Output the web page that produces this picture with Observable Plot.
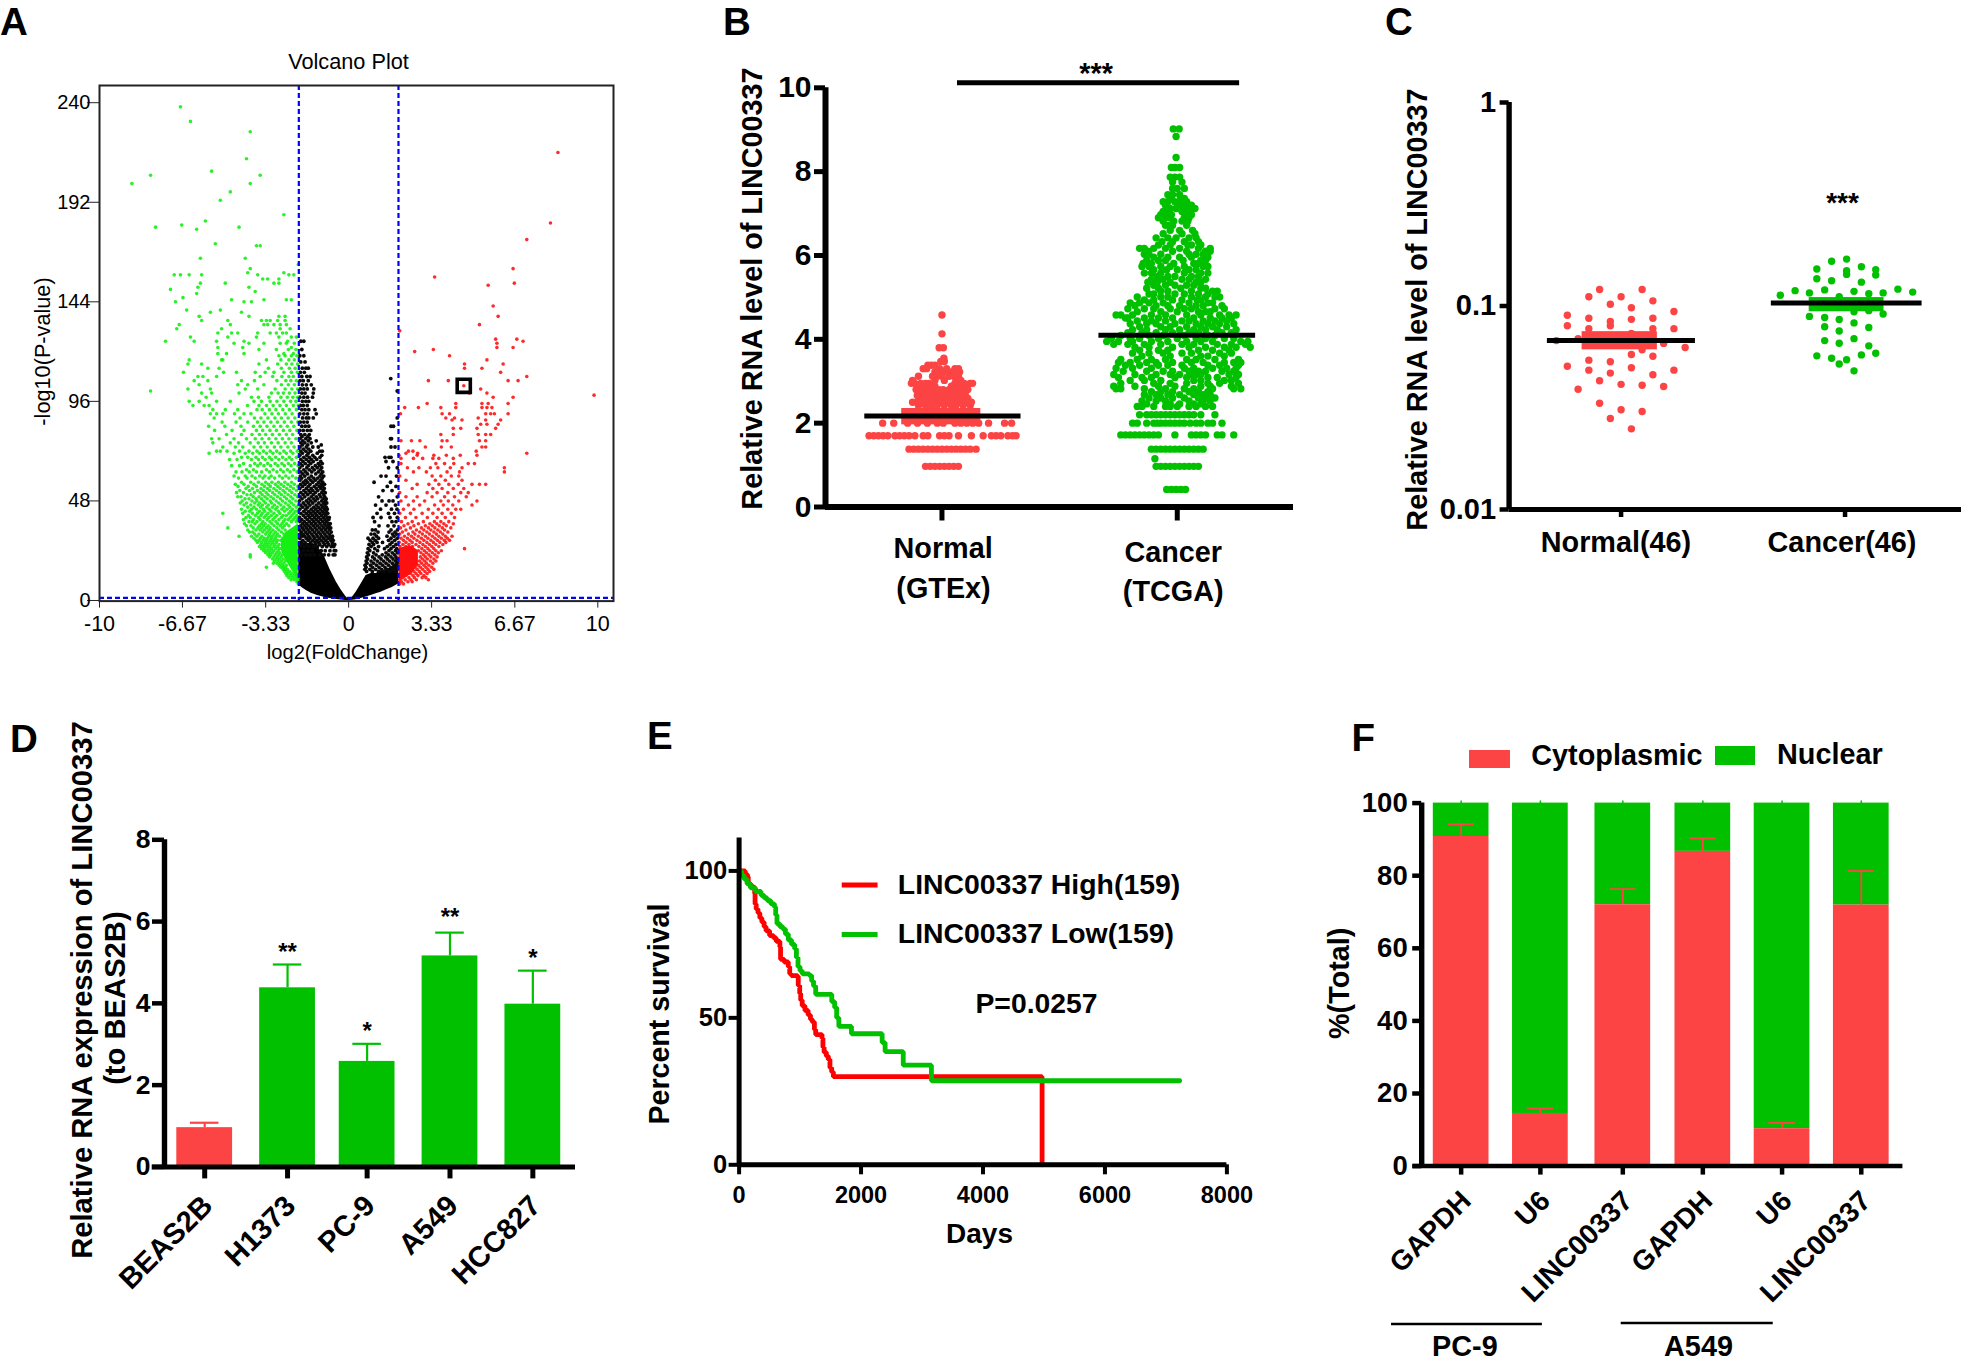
<!DOCTYPE html>
<html><head><meta charset="utf-8">
<script src="https://cdn.jsdelivr.net/npm/d3@7"></script>
<script src="https://cdn.jsdelivr.net/npm/@observablehq/plot@0.6"></script>
<style>
html,body{margin:0;background:#fff}
#page{position:relative;width:1961px;height:1362px;overflow:hidden;font-family:"Liberation Sans",Arial,sans-serif;color:#000}
#page svg{position:absolute;background:transparent}
.t{position:absolute;font-weight:bold;white-space:nowrap;line-height:1}
.s{position:absolute}
</style></head><body><div id="page"></div>
<script>
// ---------- A: volcano. Solid overlap cores as [log2FC, low, high]; points as rows of [-log10 P, [log2 FC ...]]
const volcanoTicksX=[-10,-6.67,-3.33,0,3.33,6.67,10];
const volcanoTicksY=[0,48,96,144,192,240];
const coreBlackLeft=[[-2,7.5,27],[-1.85,6,28],[-1.7,4.8,27],[-1.5,3.5,28],[-1.25,2.4,26],[-1,1.5,22],[-.75,.9,15],[-.5,.5,9],[-.3,.2,5],[-.12,0,2],[0,0,.5]];
const coreBlackRight=[[0,0,.5],[.15,.1,1.5],[.3,.4,4],[.5,1,8],[.7,1.7,12],[.9,2.4,13],[1.1,3.2,13],[1.3,4,14],[1.5,5,15],[1.75,6.3,16],[2,8,19]];
const coreGreen=[[-2.7,24,29],[-2.5,19,33],[-2.25,14,35],[-2.02,10,37]];
const coreRed=[[2.02,9,25],[2.3,11,26],[2.55,13,26],[2.8,17,24]];
const greenRows=[[8,[-2.02]],[9,[-2.08,-2.02]],[10,[-2.05,-2.18,-2.31]],[11,[-2.12,-2.26,-2.02,-2.4]],[12,[-2.07,-2.2,-2.34,-2.48]],[13,[-2.15,-2.29,-2.43,-2.52]],[14,[-2.37,-2.58,-2.47]],[15,[-2.46,-2.63,-2.55]],[16,[-2.55,-2.72,-2.61,-3.3]],[17,[-2.5,-2.66,-2.79]],[18,[-2.6,-2.75,-2.88,-3.02]],[19,[-2.53,-2.69,-2.83,-2.97]],[20,[-2.62,-2.78,-2.91,-3.05]],[21,[-2.71,-2.86,-3,-3.17,-3.95]],[22,[-2.66,-2.8,-2.95,-3.12,-3.24,-3.95]],[23,[-2.76,-2.9,-3.06,-3.19,-3.33]],[24,[-2.83,-3.01,-3.15,-3.28,-3.41]],[25,[-2.77,-2.92,-3.09,-3.23,-3.37,-3.5]],[26,[-2.85,-3,-3.17,-3.31,-3.44,-3.58]],[27,[-2.79,-2.96,-3.11,-3.26,-3.39,-3.52]],[28,[-2.9,-3.05,-3.2,-3.34,-3.5,-3.66]],[29,[-2.72,-2.86,-3,-3.14,-3.29,-3.43,-3.6,-3.72]],[30,[-2.64,-2.95,-3.1,-3.25,-3.38,-3.54,-3.8]],[31,[-2.77,-2.91,-3.07,-3.21,-3.48,-3.68,-3.9,-4.4]],[32,[-2.6,-2.85,-3,-3.17,-3.33,-3.6,-3.77]],[33,[-2.7,-2.94,-3.12,-3.27,-3.45,-3.85,-3.98]],[34,[-2.55,-2.8,-3.04,-3.2,-3.38,-3.55,-3.72,-4.05]],[35,[-2.66,-2.88,-3.15,-3.3,-3.48,-3.64,-3.83,-4.85]],[36,[-2.4,-2.58,-2.75,-2.99,-3.23,-3.41,-3.58,-3.92,-4.1]],[37,[-2.49,-2.68,-2.85,-3.08,-3.35,-3.5,-3.76,-4.18]],[38,[-2.1,-2.3,-2.62,-2.92,-3.16,-3.44,-3.68,-3.87,-4]],[39,[-2.05,-2.22,-2.42,-2.55,-2.8,-3.04,-3.27,-3.56,-3.82,-4.22]],[40,[-2.15,-2.35,-2.7,-2.96,-3.2,-3.39,-3.62,-3.95,-4.12]],[41,[-2.08,-2.28,-2.5,-2.63,-2.88,-3.1,-3.32,-3.52,-3.74,-4.02]],[42,[-2.2,-2.4,-2.76,-3,-3.24,-3.47,-3.66,-3.86,-4.25,-5.05]],[43,[-2.03,-2.13,-2.33,-2.57,-2.82,-3.12,-3.37,-3.58,-3.97,-4.15]],[44,[-2.25,-2.47,-2.68,-2.93,-3.19,-3.42,-3.7,-3.9,-4.3]],[45,[-2.1,-2.36,-2.6,-2.87,-3.06,-3.29,-3.53,-3.8,-4.05]],[46,[-2.02,-2.2,-2.43,-2.72,-2.98,-3.22,-3.46,-3.63,-3.93,-4.2]],[47,[-2.3,-2.54,-2.81,-3.09,-3.34,-3.57,-3.77,-4.1,-4.35]],[48,[-2.12,-2.38,-2.65,-2.91,-3.15,-3.41,-3.68,-3.88,-4.27]],[49,[-2.24,-2.49,-2.74,-3.02,-3.27,-3.5,-3.72,-4,-4.16]],[50,[-2.05,-2.32,-2.58,-2.85,-3.12,-3.36,-3.6,-3.83,-4.32,-4.45]],[51,[-2.16,-2.43,-2.7,-2.96,-3.23,-3.47,-3.92,-4.08]],[52,[-2.28,-2.55,-2.79,-3.05,-3.31,-3.55,-3.78,-4.22,-4.5]],[53,[-2.09,-2.37,-2.63,-2.9,-3.17,-3.42,-3.66,-3.98,-4.37]],[54,[-2.22,-2.48,-2.75,-3,-3.26,-3.52,-3.86,-4.12]],[55,[-2.04,-2.33,-2.6,-2.84,-3.14,-3.38,-3.7,-4.03,-4.44]],[56,[-2.18,-2.44,-2.71,-2.94,-3.22,-3.48,-3.8,-4.2,-4.55]],[57,[-2.29,-2.56,-2.82,-3.08,-3.33,-3.62,-3.93,-4.3]],[59,[-2.12,-2.4,-2.66,-2.97,-3.2,-3.44,-3.75,-4.08,-4.42]],[60,[-2.26,-2.52,-2.78,-3.11,-3.36,-3.57,-3.88,-4.15,-4.6]],[62,[-2.07,-2.35,-2.62,-2.88,-3.18,-3.49,-3.7,-3.99,-4.28,-4.52]],[63,[-2.2,-2.46,-2.73,-3.03,-3.3,-3.82,-4.1]],[65,[-2.03,-2.31,-2.58,-2.84,-3.13,-3.4,-3.65,-3.95,-4.38,-4.7]],[66,[-2.17,-2.42,-2.68,-2.95,-3.25,-3.54,-3.77,-4.22]],[68,[-2.28,-2.52,-2.8,-3.09,-3.35,-3.62,-3.9,-4.48,-4.78]],[69,[-2.1,-2.38,-2.65,-2.93,-3.18,-3.46,-3.72,-4.05,-4.3]],[71,[-2.24,-2.5,-2.76,-3.04,-3.3,-3.58,-3.85,-4.15,-4.6,-5.6]],[72,[-2.06,-2.33,-2.6,-2.89,-3.15,-3.42,-3.68,-4,-4.38,-4.88,-5.3,-5.15]],[74,[-2.19,-2.44,-2.72,-2.98,-3.27,-3.53,-3.8,-4.25,-4.55,-5.05]],[76,[-2.3,-2.55,-2.83,-3.1,-3.38,-3.63,-3.95,-4.42,-4.75,-5.45]],[78,[-2.12,-2.4,-2.66,-2.92,-3.2,-3.48,-3.75,-4.1,-4.6,-5.2,-5.5]],[80,[-2.25,-2.5,-2.78,-3.06,-3.33,-3.58,-3.88,-4.3,-4.9]],[82,[-2.08,-2.36,-2.62,-2.9,-3.16,-3.45,-3.7,-4.2,-4.68,-5.38]],[84,[-2.2,-2.46,-2.73,-3,-3.28,-3.55,-3.82,-4.32,-4.97,-5.62]],[86,[-2.04,-2.3,-2.58,-2.86,-3.12,-3.4,-3.66,-4.05,-4.52,-5.08]],[88,[-2.16,-2.43,-2.7,-2.96,-3.24,-3.52,-3.78,-4.36,-5.4]],[90,[-2.27,-2.54,-2.82,-3.08,-3.36,-3.92,-4.2,-4.58,-5.05,-5.55,-5.3]],[92,[-2.1,-2.38,-2.64,-2.92,-3.18,-3.47,-3.68,-4.45,-4.95,-5.45]],[94,[-2.02,-2.22,-2.5,-2.76,-3.03,-3.3,-3.6,-4.06,-5.8,-5.6,-6.25]],[96,[-2.12,-2.33,-2.6,-2.88,-3.15,-3.5,-3.8,-4.75,-5.3,-6.4,-6]],[98,[-2.05,-2.24,-2.46,-2.72,-3.2,-3.62,-3.9,-5.72]],[100,[-2.15,-2.38,-2.62,-2.83,-3.1,-4.4,-5.9,-5.5]],[101,[-7.95]],[102,[-2.05,-2.28,-2.55,-2.95,-3.65,-4.15,-5.55,-6.45]],[104,[-2.18,-2.42,-2.7,-3.4,-4.45,-4.05,-6]],[106,[-2.1,-2.32,-2.52,-2.88,-3.78,-4.3,-5.65,-6.2]],[108,[-2.22,-2.4,-2.68,-3.05,-3.55,-5.3,-6.05,-5.85]],[110,[-2.06,-2.3,-2.6,-3,-3.35,-3.75,-4.5,-5.02,-6.63]],[112,[-2.15,-2.38,-2.7,-3.22,-5.65,-5.2]],[114,[-2.05,-2.28,-2.5,-2.85,-3.6,-5.9,-6.45]],[116,[-2.18,-2.4,-2.72,-3.3,-5.1,-5.05,-6.4]],[118,[-2.08,-2.3,-2.55,-2.8]],[119,[-2.22,-2.6,-4.2,-4.9,-5.25]],[121,[-2.12,-2.42,-2.9,-3.6]],[122,[-2.3,-4.25,-5.25]],[124,[-2.18,-2.5,-2.75,-3.4,-4.6,-4]],[125,[-7.35,-6.2,-5.3,-4.2,-2.45]],[127,[-6.35,-4.85,-3.7,-2.8,-2.3,-2.1]],[129,[-5.25,-4.7,-4.45,-3.65,-3.15,-2.9,-2.65,-2.5]],[131,[-6.9,-5.1,-2.75,-2.35]],[133,[-6.8,-4.75,-3.4,-3.25,-3,-2.75,-2.5]],[135,[-5.9,-4.85,-3.5,-3.3,-3.15,-2.85,-2.55]],[137,[-6,-4,-2.8,-2.55]],[139,[-5.55,-4.3]],[140,[-6.5,-5.15]],[144,[-6.95,-4.2,-3.9]],[145,[-4.7,-3.4,-2.5,-2.3]],[146,[-6.65]],[148,[-6.1]],[149,[-3.75]],[150,[-7.15]],[151,[-6.05,-4]],[153,[-5.95,-4.95,-3,-2.8]],[155,[-3.45,-3.25,-2.8]],[157,[-7,-6.75,-6.4,-5.9,-3.65,-2.4,-2.2]],[158,[-4.05,-2.6]],[160,[-3.95]],[162,[-2.02]],[165,[-5.95,-4.15]],[171,[-3.7,-3.55]],[172,[-5.35]],[179,[-6.1]],[180,[-7.75,-4.4]],[181,[-6.7]],[183,[-5.75]],[186,[-2.6]],[193,[-5.15]],[197,[-4.75]],[201,[-8.7,-3.95]],[205,[-7.95,-3.55]],[207,[-5.5]],[213,[-4.1]],[226,[-3.95]],[231,[-6.35]],[238,[-6.75]]];
const redRows=[[8,[2.05,2.2]],[9,[2.12,2.38,2.55]],[10,[2.06,2.27,2.5,2.72,3.2]],[11,[2.15,2.42,2.64,2.95,3.1]],[12,[2.3,2.58,2.78,3.02]],[13,[2.48,2.7,2.9,3.15]],[14,[2.62,2.84,3.06,3.25]],[15,[2.75,2.97,3.18,3.42]],[16,[2.66,2.88,3.1,3.33]],[17,[2.8,3.02,3.22]],[18,[2.92,3.12,3.38]],[19,[2.84,3.05,3.28,3.5]],[20,[2.96,3.16,3.42]],[21,[2.88,3.08,3.3,3.55]],[22,[3,3.22,3.46]],[23,[2.9,3.12,3.36,3.6]],[24,[2.8,3.04,3.26,3.5,3.72]],[25,[2.94,3.18,3.42,4.65]],[26,[2.06,2.3,2.56,2.82,3.08,3.34,3.62]],[27,[2.18,2.42,2.7,2.98,3.24,3.5,3.78]],[28,[2.03,2.3,2.55,2.86,3.14,3.4,3.66,3.9]],[29,[2.2,2.46,2.74,3.02,3.3,3.56,3.84,4.05]],[30,[2.1,2.36,2.62,2.92,3.18,3.46,3.72,3.96]],[31,[2.24,2.52,2.8,3.08,3.36,3.62,3.88,4.15]],[32,[2.05,2.4,2.66,2.96,3.24,3.52,3.78]],[33,[2.16,2.58,2.85,3.14,3.42,3.68,3.98]],[34,[2.3,2.72,3.02,3.3,3.58,3.85]],[35,[2.08,2.48,2.92,3.2,3.46,3.76,4.1]],[36,[2.22,2.62,3.08,3.36,3.64,3.92]],[37,[2.38,2.8,3.26,3.54,3.82,4.2]],[38,[2.12,2.55,3,3.44,3.7,4.02]],[40,[2.28,2.7,3.16,3.55,3.88,4.25]],[42,[2.05,2.48,2.95,3.38,3.75,4.12]],[44,[2.2,2.62,3.2,3.6,3.98,4.3,4.5]],[46,[2.4,2.85,3.45,3.8,4.18,4.95]],[48,[2.1,2.6,3.05,3.7,4,4.42,5.15]],[50,[2.3,2.75,3.35,3.85,4.25,4.72]],[52,[2.05,3.15,3.55,3.98,4.5,4.8]],[54,[2.55,3.38,3.75,4.2,4.62]],[56,[2.75,3.22,3.62,4.02,4.4,4.95,5.25,5.5]],[58,[2.3,3.48,3.88,4.55]],[60,[2.05,3.35,3.7,4.12,4.42]],[62,[2.6,3.12,3.95,4.45,6.25]],[64,[2.36,2.82,3.28,3.58,4.08,4.55,6.25]],[66,[2.1,3.5,3.85,4.22,4.8,5.05]],[68.5,[2.1,2.6,2.97,3.38,3.62,4.2]],[70,[2.75,3.42,3.92,4.48,5.15,2.02]],[71,[2.3,2.77,7.15]],[72,[2.4,2.58,5.12]],[74,[3.08,3.72,4.12,5.35,5.5]],[77,[2.1,2.52,2.86,3.75,3.95,5.25,5.5]],[80,[3.7,4.2,5.2,5.5,5.7]],[83,[4.2,4.5,5.15,5.9]],[85,[5.3,5.55,6]],[87,[4.15,4.55,5.5,6.1]],[88,[5.2,3.9,4.25]],[90,[2.08,3.75,4.05,5.5,5.7,5.85,6.4]],[93,[2.25,2.8,3.7,4.3,5.35,5.55,5.75]],[95,[3.15,4.3,5.35,5.6,6.4]],[98,[5.8,6.6]],[99,[9.85]],[100,[4.85,5.55]],[102,[5.3]],[103.5,[4.62]],[106,[3.2,4,6.4,6.8]],[108,[7.15]],[110,[6.1]],[112,[4.65,5.35]],[114,[4.65,6.2]],[116,[5.55]],[118,[4.05]],[120,[2.65]],[121,[3.4]],[122,[5.95,6.6]],[124,[5.95]],[125,[7]],[126,[5.9,6.75]],[130,[2.05]],[133,[5.25]],[137,[6]],[142,[5.8]],[152,[5.6]],[153,[6.65]],[156,[3.45]],[160,[6.6]],[174,[7.15]],[182,[8.1]],[216,[8.4]]];
const blackRows=[[22,[-1.9,-1.72,-1.55,-1.38,-1.15,-.98,-.8,-.62,-.55]],[24,[-1.82,-1.64,-1.46,-1.1,-.94,-.75,-.58,-.52]],[26,[-1.95,-1.78,-1.6,-1.42,-1.25,-1.06,-.88,-.7,-.6]],[27,[-1.86,-1.68,-1.32,-1.16,-.97,-.8,-.64,-.56]],[28,[-1.93,-1.75,-1.52,-1.35,-1.2,-1.02,-.85,-.66]],[29,[-1.84,-1.62,-1.44,-1.27,-1.1,-.92,-.72,-.62]],[30,[-1.96,-1.7,-1.55,-1.37,-1.18,-1,-.82,-.67]],[31,[-1.88,-1.77,-1.6,-1.42,-1.26,-1.08,-.9,-.74,-.65]],[32,[-1.95,-1.82,-1.66,-1.48,-1.3,-1.14,-.96,-.78]],[33,[-1.9,-1.72,-1.56,-1.38,-1.2,-1.03,-.86,-.7]],[34,[-1.97,-1.8,-1.63,-1.46,-1.28,-1.1,-.93,-.76]],[35,[-1.86,-1.7,-1.53,-1.35,-1.17,-1,-.84,-.72]],[36,[-1.93,-1.76,-1.6,-1.42,-1.25,-1.07,-.91,-.79]],[37,[-1.84,-1.68,-1.5,-1.33,-1.15,-.97,-.82,-.74]],[38,[-1.95,-1.78,-1.58,-1.4,-1.22,-1.04,-.88]],[39,[-1.88,-1.66,-1.47,-1.3,-1.12,-.95,-.8]],[40,[-1.97,-1.74,-1.56,-1.37,-1.2,-1.02,-.86,-.78]],[41,[-1.82,-1.62,-1.45,-1.28,-1.09,-.92]],[42,[-1.92,-1.7,-1.52,-1.34,-1.16,-.99,-.84]],[43,[-1.8,-1.6,-1.42,-1.24,-1.06,-.9]],[44,[-1.96,-1.72,-1.5,-1.32,-1.14,-.97,-.86]],[45,[-1.85,-1.65,-1.4,-1.22,-1.04,-.9]],[46,[-1.93,-1.74,-1.55,-1.3,-1.1,-.95]],[47,[-1.82,-1.62,-1.44,-1.2,-1,-.88]],[48,[-1.97,-1.7,-1.52,-1.34,-1.08,-.93]],[49,[-1.87,-1.6,-1.4,-1.24,-1.02,-.9]],[50,[-1.95,-1.76,-1.5,-1.3,-1.12,-.96]],[51,[-1.83,-1.64,-1.42,-1.18,-1]],[52,[-1.92,-1.72,-1.54,-1.34,-1.08,-.94]],[53,[-1.8,-1.6,-1.44,-1.24,-1.02]],[54,[-1.96,-1.7,-1.5,-1.3,-1.12,-.98]],[55,[-1.85,-1.62,-1.38,-1.18,-1.05]],[56,[-1.93,-1.75,-1.55,-1.28,-1.1,-.97]],[57,[-1.82,-1.66,-1.44,-1.2,-1.04]],[58,[-1.96,-1.72,-1.52,-1.34,-1.12]],[59,[-1.88,-1.6,-1.4,-1.24,-1.06]],[60,[-1.94,-1.76,-1.5,-1.15,-1]],[61,[-1.84,-1.65,-1.32,-1.1]],[62,[-1.92,-1.72,-1.48,-1.22,-1.04]],[63,[-1.8,-1.58,-1.38,-1.14]],[64,[-1.96,-1.68,-1.46,-1.26,-1.08]],[65,[-1.86,-1.62,-1.34,-1.16]],[66,[-1.94,-1.74,-1.52,-1.22,-1.06]],[67,[-1.83,-1.6,-1.42,-1.12]],[68,[-1.92,-1.7,-1.5,-1.28]],[69,[-1.8,-1.58,-1.36,-1.15]],[70,[-1.96,-1.68,-1.44,-1.08]],[71,[-1.86,-1.62,-1.26]],[72,[-1.93,-1.72,-1.52,-1.16,-1.06]],[73,[-1.82,-1.6]],[74,[-1.95,-1.7,-1.44,-1.22]],[75,[-1.86,-1.64,-1.1]],[76,[-1.92,-1.76,-1.5]],[77,[-1.84,-1.62,-1.3]],[78,[-1.95,-1.72,-1.55]],[79,[-1.87,-1.64]],[80,[-1.92,-1.76,-1.58]],[82,[-1.96,-1.82,-1.66,-1.52]],[84,[-1.88,-1.74,-1.6]],[86,[-1.94,-1.8,-1.66]],[88,[-1.85,-1.7,-1.6,-1.42]],[90,[-1.96,-1.8,-1.65,-1.3]],[92,[-1.88,-1.75,-1.6,-1.35]],[94,[-1.94,-1.82,-1.66]],[96,[-1.86,-1.72,-1.6]],[98,[-1.96,-1.8,-1.65,-1.45]],[100,[-1.88,-1.75,-1.42]],[102,[-1.94,-1.8,-1.66,-1.4]],[104,[-1.86,-1.7,-1.5]],[106,[-1.95,-1.82,-1.62]],[108,[-1.88,-1.68,-1.55]],[110,[-1.94,-1.78]],[112,[-1.86,-1.72,-1.62]],[115,[-1.92,-1.75]],[118,[-1.96,-1.8]],[121,[-1.88]],[125,[-1.8,-1.92]],
[14,[.72,.95,1.2,1.42,1.65,1.88]],[15,[.65,.85,1.08,1.32,1.55,1.78,1.95]],[16,[.7,.96,1.22,1.46,1.7,1.9]],[17,[.66,.88,1.12,1.36,1.6,1.82]],[18,[.74,1,1.26,1.5,1.75,1.95]],[19,[.7,.9,1.15,1.4,1.64,1.88]],[20,[.76,1.04,1.3,1.55,1.78,1.94]],[21,[.72,.96,1.22,1.48,1.7,1.9]],[22,[.8,1.1,1.35,1.6,1.84]],[23,[.75,1,1.5,1.75,1.96]],[24,[.85,1.16,1.62,1.88]],[25,[.78,1.05,1.44,1.7,1.93]],[26,[.9,1.2,1.55,1.8]],[27,[.82,1,1.66,1.9]],[28,[.95,1.14,1.36,1.74]],[29,[.86,1.07,1.6,1.85]],[30,[.78,.98,1.2,1.7,1.95]],[31,[1.12,1.54,1.82]],[32,[.9,1.04,1.76,1.92]],[33,[1.18,1.62,1.86]],[34,[.95,1.08,1.7,1.96]],[36,[1.22,1.58,1.82]],[38,[1.04,1.74,1.9]],[40,[.98,1.3,1.66,1.95]],[42,[1.14,1.6,1.84]],[44,[1.28,1.72,1.94]],[46,[1.08,1.5,1.88]],[48,[1.34,1.62,1.78]],[50,[1.2,1.95]],[53,[1.38,1.74]],[55,[1.55,1.9]],[57,[1.02,1.68]],[60,[1.3,1.5,1.92]],[64,[1.6,1.95]],[67,[1.5,1.78]],[69,[1.46,1.62,1.7]],[74,[1.86,1.7]],[78,[1.72,1.68]],[84,[1.8,1.7]],[88,[1.95]],[101,[1.95]],[107,[1.69]]];
// ---------- B: beeswarm rows of [level, [horizontal offset ...]]
const normalGTEx=[[4.58,[0]],[4.13,[0]],[3.8,[-.012,.006]],[3.55,[.008]],[3.47,[-.005,.01]],[3.38,[-.06,-.045,-.03]],[3.3,[-.08,-.065,-.01,.02,.055,.07]],[3.22,[-.03,-.012,.006,.03,.045,.075]],[3.12,[-.1,-.04,-.02,0,.03,.05,.07]],[3.02,[-.125,-.03,.01,.06,.08]],[2.95,[-.13,-.115,-.09,-.07,-.055,.055,.085,.095,.12,.13]],[2.88,[-.1,-.075,-.05,-.03,.04,.07,.1]],[2.8,[-.11,-.085,-.06,-.035,-.012,.005,.03,.055,.078,.11]],[2.73,[-.095,-.075,-.04,-.02,.015,.04,.065,.09]],[2.66,[-.105,-.07,-.05,-.025,0,.02,.05,.08,.1]],[2.59,[-.09,-.07,-.04,-.01,.01,.03,.06,.08,.11]],[2.5,[-.125,-.105,-.085,-.06,-.035,-.015,.005,.03,.05,.07,.09,.105,.125]],[2.42,[-.1,-.07,-.045,-.02,.01,.04,.06,.09,.12]],[2,[-.252,-.205,-.146,-.104,-.062,-.02,.005,.055,.08,.106,.131,.156,.198,.266,.296]],[1.7,[-.31,-.29,-.27,-.25,-.23,-.2,-.18,-.16,-.14,-.115,-.08,-.06,-.01,.01,.03,.07,.125,.175,.21,.23,.25,.28,.3,.315]],[1.38,[-.14,-.12,-.1,-.08,-.06,-.04,-.02,0,.02,.04,.06,.08,.1,.12,.145]],[.97,[-.07,-.05,-.03,-.01,.01,.03,.05,.07]]];
const cancerTCGA=[[9.02,[-.017,.008]],[8.84,[-.005]],[8.34,[-.005]],[8.1,[-.025,-.01,.01]],[7.87,[-.03,-.01,.01]],[7.75,[-.02,.02]],[7.6,[-.02,0,.03]],[7.45,[-.04,-.02,.01]],[7.36,[-.03,.015,.03]],[7.28,[-.06,-.04,-.01,.02,.04]],[7.2,[-.05,.005,.035,.06]],[7.12,[-.03,-.005,.03,.06,.075]],[7.05,[-.06,-.04,.02,.045]],[6.97,[-.07,-.025,.04,.06]],[6.9,[-.08,-.05,-.03,.03,.05]],[6.82,[-.06,-.015,.02,.045]],[6.72,[-.05,-.035,-.02,.04]],[6.6,[-.03,.01,.065]],[6.52,[-.06,.02,.075]],[6.42,[-.09,-.04,-.005,.05,.08]],[6.33,[-.065,-.02,.03,.09]],[6.25,[-.08,-.03,.045,.06,.1]],[6.17,[-.16,-.14,-.1,-.05,.01,.09,.14]],[6.1,[-.125,-.02,.04,.12,.14]],[6.03,[-.14,-.12,-.07,.05,.08,.11]],[5.96,[-.1,-.04,.01,.06,.13]],[5.88,[-.13,-.08,-.05,.025,.1,.12]],[5.81,[-.145,-.11,-.015,.07,.09]],[5.74,[-.15,-.12,-.07,-.03,.03,.11,.13]],[5.66,[-.1,-.045,0,.05,.08]],[5.58,[-.14,-.11,-.07,.03,.1,.13]],[5.5,[-.085,-.04,-.01,.06,.09]],[5.43,[-.11,-.06,.02,.05,.12]],[5.36,[-.125,-.085,-.03,.08,.1]],[5.29,[-.1,-.05,-.01,.04,.07]],[5.22,[-.13,-.08,.015,.1,.12]],[5.15,[-.07,-.04,.06,.15,.17]],[5.08,[-.12,-.1,-.01,.03,.09,.13]],[5.01,[-.17,-.07,-.04,.06,.12,.16,.18]],[4.94,[-.14,-.1,-.02,.02,.085,.1]],[4.87,[-.2,-.16,-.12,-.06,.05,.13,.15]],[4.8,[-.18,-.09,-.04,.01,.08,.11,.19]],[4.73,[-.21,-.14,-.1,-.03,.03,.06,.16,.2]],[4.66,[-.17,-.07,0,.09,.12,.14]],[4.58,[-.26,-.24,-.19,-.11,-.05,.04,.1,.18,.22,.25]],[4.51,[-.22,-.21,-.14,-.08,-.02,.07,.14,.19,.23]],[4.44,[-.17,-.11,-.05,.02,.05,.11,.16,.21]],[4.37,[-.2,-.13,-.09,-.01,.08,.13,.18,.24]],[4.3,[-.16,-.07,-.03,.04,.1,.15,.21]],[4.23,[-.19,-.13,-.05,.01,.07,.12,.17,.25]],[4.16,[-.21,-.15,-.09,-.02,.05,.09,.19,.23]],[4.09,[-.24,-.12,-.06,.03,.13,.16]],[4.02,[-.28,-.2,-.16,-.08,0,.08,.12,.2,.24]],[3.95,[-.3,-.25,-.19,-.11,-.04,.04,.1,.15,.27,.3]],[3.88,[-.27,-.21,-.14,-.07,.02,.07,.17,.23,.29]],[3.81,[-.18,-.12,-.02,.05,.12,.2,.25,.31]],[3.74,[-.16,-.08,-.04,.09,.15,.22]],[3.67,[-.19,-.12,-.06,.02,.06,.18,.23]],[3.6,[-.15,-.03,.1,.13,.2]],[3.52,[-.24,-.17,-.11,-.05,.04,.08,.16,.26]],[3.45,[-.25,-.2,-.13,-.09,-.02,.06,.11,.2,.24,.27]],[3.38,[-.22,-.16,-.08,-.04,.02,.13,.18,.26]],[3.31,[-.26,-.19,-.11,.03,.07,.15,.21,.25]],[3.24,[-.23,-.13,-.06,-.02,.05,.09,.12,.19,.24]],[3.16,[-.27,-.18,-.09,-.03,.01,.06,.08,.1,.22,.26]],[3.09,[-.25,-.15,-.11,-.01,.04,.13,.17,.25]],[3.02,[-.2,-.14,-.07,.07,.1,.2,.23]],[2.95,[-.24,-.1,-.03,.04,.13,.18,.26]],[2.88,[-.27,-.18,-.08,-.01,.1,.14,.23]],[2.82,[-.26,-.24,-.14,-.05,.03,.07,.15,.24,.27]],[2.75,[-.11,-.07,-.02,.05,.09,.13]],[2.68,[-.14,-.09,-.04,.01,.07,.11,.14]],[2.6,[-.12,-.07,-.02,.03,.09,.13,.16]],[2.53,[-.15,-.09,-.05,.05,.11,.14]],[2.46,[-.13,-.03,.01,.07,.1]],[2.4,[-.17,-.15,-.1,-.05,-.03,0,.05,.08,.12,.15]],[2.2,[-.16,-.13,-.11,-.09,-.07,-.05,-.03,-.01,.01,.03,.05,.07,.1,.16]],[2,[-.19,-.17,-.13,-.1,-.085,-.07,-.05,-.03,-.01,.01,.03,.055,.08,.1,.13,.15,.19]],[1.72,[-.24,-.22,-.2,-.18,-.16,-.14,-.12,-.1,-.08,-.01,.06,.08,.1,.12,.17,.19,.24]],[1.38,[-.11,-.09,-.07,-.05,-.03,-.01,.01,.03,.05,.07,.09,.11]],[1.15,[-.095]],[.97,[-.09,-.07,-.05,-.03,-.01,.01,.03,.05,.07,.09]],[.42,[-.045,-.025,-.005,.015,.035]]];
const bMeans=[2.17,4.1];
// ---------- C: [offset, level]
const normal46=[[-.096,.1205],[.094,.1205],[-.144,.111],[0,.111],[.142,.106],[-.048,.102],[.046,.098],[.236,.094],[-.24,.09],[-.144,.087],[.142,.087],[.046,.086],[-.048,.084],[-.048,.08],[-.24,.08],[.236,.0774],[.142,.0774],[-.144,.0774],[.046,.0734],[-.289,.0676],[-.192,.069],[.19,.0655],[.286,.0625],[.094,.061],[.046,.0578],[.142,.0566],[-.144,.0542],[-.048,.0532],[-.24,.0506],[.046,.0497],[-.144,.0484],[.236,.0484],[-.048,.0468],[.142,.0459],[-.096,.0429],[0,.0412],[.094,.0408],[.19,.0402],[-.192,.039],[-.096,.0333],[0,.0309],[.094,.0303],[-.048,.028],[.046,.0249]];
const cancer46=[[.007,.17],[-.06,.166],[.073,.156],[-.126,.152],[.137,.151],[.007,.149],[.007,.143],[.137,.142],[-.126,.136],[-.06,.133],[.073,.131],[.236,.121],[-.223,.119],[-.091,.12],[.04,.118],[.302,.117],[-.159,.116],[.17,.116],[.106,.115],[-.289,.113],[-.026,.111],[.17,.0913],[.106,.0949],[.04,.0937],[-.159,.0889],[-.091,.0878],[-.026,.0859],[.04,.0826],[-.091,.0791],[.106,.0784],[-.026,.0754],[.04,.0691],[-.091,.0676],[-.026,.0656],[.106,.0637],[.137,.0586],[-.126,.0569],[.073,.0575],[-.06,.0554],[.007,.0544],[-.026,.0519],[.04,.048]];
// ---------- D
const cellLines=["BEAS2B","H1373","PC-9","A549","HCC827"];
const cellPos=[0,1.01,1.98,2.99,4];
const cellMeans=[.96,4.38,2.58,5.16,3.98];
const cellErrs=[1.08,4.95,3.01,5.73,4.8];
const cellStars=["","**","*","**","*"];
const starLevels=[0,5.35,3.43,6.2,5.2];
// ---------- E
const survHigh=[[0,100],[83,100],[100,98.8],[138,98],[150,95.5],[200,94.5],[255,92.3],[262,88.7],[280,87],[310,85.7],[340,84],[373,82.6],[410,81],[442,79.6],[500,78],[566,77.2],[610,76],[669,74.1],[680,69.9],[740,69],[807,67.4],[830,65],[856,64.4],[959,64.2],[970,61],[994,58.3],[1010,56],[1035,54.1],[1080,52.5],[1132,51],[1170,49.5],[1200,48.6],[1235,46],[1256,44.3],[1360,43.1],[1375,40],[1394,38.3],[1430,37],[1463,35.8],[1490,33],[1518,31.6],[1546,30],[4969,30],[4969,0]];
const survLow=[[0,100],[40,98.5],[83,97.2],[130,95.6],[186,94.2],[270,93],[359,91.7],[410,90.8],[462,89.9],[520,88.8],[580,87.7],[600,85],[621,82],[670,81],[718,80.2],[760,78.5],[807,76.5],[860,75],[911,73.5],[940,70.5],[966,67.4],[1000,66],[1035,65],[1152,64.4],[1190,62.5],[1221,60.8],[1256,58],[1477,58],[1520,55.5],[1567,53.5],[1600,50],[1636,47.1],[1808,47.1],[1843,44.6],[2291,44.6],[2346,41.6],[2395,38.5],[2671,38.5],[2692,33.9],[3154,33.9],[3154,28.6],[7226,28.6]];
// ---------- F
const fractions=["GAPDH","U6","LINC00337","GAPDH","U6","LINC00337"];
const fractionPos=[0,.99,2.02,3.02,4.01,5];
const cytoplasmic=[90.8,14.5,72,86.7,10.3,71.9];
const cytoErr=[94.2,15.9,76.3,90.3,11.9,81.3];

const RED="#FC4444",GREEN="#00C000",FONT="'Liberation Sans',Arial,sans-serif";
const page=document.getElementById("page");
const rowsToPts=rows=>rows.flatMap(([y,xs])=>xs.map(x=>({x,y})));

function panel(box,frame,x,y,build){
  const ml=frame[0]-box[0],mr=box[2]-frame[2],mt=frame[1]-box[1],mb=box[3]-frame[3];
  const note=(s,X,Y,o={})=>Plot.text([s],{text:d=>d,frameAnchor:"top-left",dx:X-frame[0],dy:Y-frame[1],lineAnchor:"bottom",fontWeight:"bold",fontSize:28.8,fill:"#000",...o});
  const svg=Plot.plot({width:box[2]-box[0],height:box[3]-box[1],marginLeft:ml,marginRight:mr,marginTop:mt,marginBottom:mb,x,y,style:{fontFamily:FONT,background:"transparent",overflow:"visible"},marks:build(note)});
  svg.style.left=box[0]+"px";svg.style.top=box[1]+"px";
  page.appendChild(svg);
}
const axisOpts={label:null,fontWeight:"bold",stroke:"#000"};
const fmt=d=>String(d);

// A
panel([0,40,660,680],[99,85,613,600.6],{domain:[-10,10.63]},{domain:[-.3,248.3]},note=>[
  Plot.areaY(coreBlackLeft,{x:"0",y1:"1",y2:"2",fill:"#000"}),
  Plot.areaY(coreBlackRight,{x:"0",y1:"1",y2:"2",fill:"#000"}),
  Plot.areaY(coreGreen,{x:"0",y1:"1",y2:"2",fill:"#14F014"}),
  Plot.areaY(coreRed,{x:"0",y1:"1",y2:"2",fill:"#FF1010"}),
  Plot.dot(rowsToPts(blackRows),{x:"x",y:"y",r:1.9,fill:"#0A0A0A"}),
  Plot.dot(rowsToPts(greenRows),{x:"x",y:"y",r:1.8,fill:"#14F014",fillOpacity:.9}),
  Plot.dot(rowsToPts(redRows),{x:"x",y:"y",r:1.8,fill:"#FF1414",fillOpacity:.9}),
  Plot.ruleX([-2,2],{stroke:"#0000FF",strokeWidth:2.2,strokeDasharray:"5,3"}),
  Plot.ruleY([1.3],{stroke:"#0000FF",strokeWidth:2.2,strokeDasharray:"5,3"}),
  Plot.dot([{x:4.62,y:103.5}],{x:"x",y:"y",symbol:"square",r:7.4,stroke:"#000",strokeWidth:3.6,fill:"none"}),
  Plot.frame({stroke:"#222",strokeWidth:2}),
  Plot.axisX({ticks:volcanoTicksX,tickFormat:fmt,label:null,tickSize:7,tickPadding:8,fontSize:21.5,stroke:"#222"}),
  Plot.axisY({ticks:volcanoTicksY,tickFormat:fmt,label:null,tickSize:12,tickPadding:-3,fontSize:20,stroke:"#222"}),
  note("Volcano Plot",348,68,{textAnchor:"middle",fontWeight:"normal",fontSize:21.7}),
  note("log2(FoldChange)",347,658,{textAnchor:"middle",fontWeight:"normal",fontSize:20.2}),
  note("-log10(P-value)",49.6,351,{textAnchor:"middle",rotate:-90,fontWeight:"normal",fontSize:21.7})
]);

// B
panel([720,40,1320,620],[825,87.3,1293,506.5],{domain:[-.495,1.494]},{domain:[0,10]},note=>[
  Plot.rect([{a:-.171,b:.165,lo:1.96,hi:2.35}],{x1:"a",x2:"b",y1:"lo",y2:"hi",fill:RED}),
  Plot.dot(rowsToPts(normalGTEx),{x:"x",y:"y",r:3.7,fill:RED}),
  Plot.dot(rowsToPts(cancerTCGA).map(d=>({x:1+d.x,y:d.y})),{x:"x",y:"y",r:3.7,fill:GREEN}),
  Plot.ruleY([bMeans[0]],{x1:-.328,x2:.336,strokeWidth:5,stroke:"#000"}),
  Plot.ruleY([bMeans[1]],{x1:.667,x2:1.333,strokeWidth:5,stroke:"#000"}),
  Plot.ruleY([10.12],{x1:.066,x2:1.265,strokeWidth:5,stroke:"#000"}),
  Plot.ruleX([-.495],{strokeWidth:6,stroke:"#000"}),
  Plot.ruleY([0],{strokeWidth:6,stroke:"#000"}),
  Plot.axisX({ticks:[0,1],tickFormat:()=>"",tickSize:14,strokeWidth:5,...axisOpts}),
  Plot.axisY({ticks:[0,2,4,6,8,10],tickFormat:fmt,tickSize:11,tickPadding:3,strokeWidth:5,fontSize:30,...axisOpts}),
  note("Normal",942.6,557,{textAnchor:"middle"}),
  note("(GTEx)",943,597,{textAnchor:"middle"}),
  note("Cancer",1172.7,561,{textAnchor:"middle"}),
  note("(TCGA)",1172.7,600,{textAnchor:"middle"}),
  note("***",1095.6,82.5,{textAnchor:"middle",fontSize:28.8}),
  note("Relative RNA level of LINC00337",761.5,288,{textAnchor:"middle",rotate:-90})
]);

// C
panel([1380,40,1961,620],[1508.6,102,1961,509],{domain:[-.5,1.52]},{type:"log",domain:[.01,1]},note=>[
  Plot.rect([{a:-.174,b:.162,lo:.0609,hi:.0748},{a:.84,b:1.174,lo:.0937,hi:.11}],{x1:"a",x2:"b",y1:"lo",y2:"hi",fill:(d,i)=>i?GREEN:RED}),
  Plot.dot(normal46,{x:"0",y:"1",r:3.7,fill:RED}),
  Plot.dot(cancer46,{x:d=>1+d[0],y:"1",r:3.7,fill:GREEN}),
  Plot.ruleY([.0676],{x1:-.329,x2:.332,strokeWidth:5,stroke:"#000"}),
  Plot.ruleY([.1035],{x1:.671,x2:1.344,strokeWidth:5,stroke:"#000"}),
  Plot.ruleX([-.5],{strokeWidth:5.4,stroke:"#000"}),
  Plot.ruleY([.01],{strokeWidth:5,stroke:"#000"}),
  Plot.axisX({ticks:[0,1],tickFormat:()=>"",tickSize:8,strokeWidth:4.5,...axisOpts}),
  Plot.axisY({ticks:[.01,.1,1],tickFormat:fmt,tickSize:9,tickPadding:4,strokeWidth:4.5,fontSize:29,...axisOpts}),
  note("Normal(46)",1615.5,551,{textAnchor:"middle"}),
  note("Cancer(46)",1841.5,551,{textAnchor:"middle"}),
  note("***",1842,211,{textAnchor:"middle",fontSize:28}),
  note("Relative RNA level of LINC00337",1426,309,{textAnchor:"middle",rotate:-90})
]);

// D
const dRows=cellLines.map((c,i)=>({i:cellPos[i],c,m:cellMeans[i],e:cellErrs[i],s:cellStars[i],l:starLevels[i]}));
panel([0,700,620,1362],[164,839.3,575,1166.4],{domain:[-.49,4.52]},{domain:[0,8]},note=>[
  Plot.rect(dRows,{x1:d=>d.i-.34,x2:d=>d.i+.34,y1:0,y2:"m",fill:d=>d.i?GREEN:RED}),
  Plot.ruleX(dRows,{x:"i",y1:"m",y2:"e",strokeWidth:2.2,stroke:d=>d.i?GREEN:RED}),
  Plot.ruleY(dRows,{y:"e",x1:d=>d.i-.174,x2:d=>d.i+.174,strokeWidth:2.2,stroke:d=>d.i?GREEN:RED}),
  Plot.text(dRows,{x:"i",y:"l",text:"s",dy:12,fontSize:24,fontWeight:"bold",lineAnchor:"bottom",fill:"#000"}),
  Plot.ruleX([-.49],{strokeWidth:5.4,stroke:"#000"}),
  Plot.ruleY([0],{x1:-.64,x2:4.52,strokeWidth:5,stroke:"#000"}),
  Plot.axisX({ticks:cellPos,tickFormat:()=>"",tickSize:12,strokeWidth:5,...axisOpts}),
  Plot.axisY({ticks:[0,2,4,6,8],tickFormat:fmt,tickSize:12,tickPadding:2,strokeWidth:4.5,fontSize:26.5,...axisOpts}),
  Plot.text(dRows,{x:"i",y:0,text:"c",dx:3,dy:34,rotate:-45,textAnchor:"end",lineAnchor:"middle",fontWeight:"bold",fontSize:29,fill:"#000"}),
  note("Relative RNA expression of LINC00337",91,989.6,{textAnchor:"middle",rotate:-90,fontSize:29.2}),
  note("(to BEAS2B)",124.5,997.6,{textAnchor:"middle",rotate:-90,fontSize:29.2})
]);

// E
panel([630,800,1290,1260],[738.6,837.5,1226.4,1164.3],{domain:[0,8000]},{domain:[0,111.2]},note=>[
  Plot.line(survHigh,{x:"0",y:"1",curve:"step-after",stroke:"#FF0000",strokeWidth:4.8,strokeLinejoin:"miter"}),
  Plot.line(survLow,{x:"0",y:"1",curve:"step-after",stroke:GREEN,strokeWidth:4.8,strokeLinejoin:"miter"}),
  Plot.ruleX([0],{strokeWidth:5,stroke:"#000"}),
  Plot.ruleY([0],{strokeWidth:5,stroke:"#000"}),
  Plot.axisX({ticks:[0,2000,4000,6000,8000],tickFormat:fmt,tickSize:10,tickPadding:12,strokeWidth:4,fontSize:23.5,...axisOpts}),
  Plot.axisY({ticks:[0,50,100],tickFormat:fmt,tickSize:10,tickPadding:2,strokeWidth:4,fontSize:25.5,...axisOpts}),
  Plot.ruleY([95.2],{x1:1691,x2:2279,stroke:"#FF0000",strokeWidth:5}),
  Plot.ruleY([78.4],{x1:1691,x2:2279,stroke:GREEN,strokeWidth:5}),
  note("LINC00337 High(159)",897.3,893,{fontSize:28.4}),
  note("LINC00337 Low(159)",897.3,942,{fontSize:28.4}),
  note("P=0.0257",975,1012.5,{fontSize:28.3}),
  note("Days",979,1242,{textAnchor:"middle",fontSize:28}),
  note("Percent survival",668.7,1013.6,{textAnchor:"middle",rotate:-90,fontSize:28.6})
]);

// F
const fRows=fractions.map((c,i)=>({i:fractionPos[i],c,m:cytoplasmic[i],e:cytoErr[i]}));
panel([1340,780,1961,1362],[1421.2,802.6,1902.4,1165.6],{domain:[-.493,5.52]},{domain:[0,100]},note=>[
  Plot.rect(fRows,{x1:d=>d.i-.348,x2:d=>d.i+.348,y1:"m",y2:100,fill:GREEN}),
  Plot.rect(fRows,{x1:d=>d.i-.348,x2:d=>d.i+.348,y1:0,y2:"m",fill:RED}),
  Plot.ruleX(fRows,{x:"i",y1:99.8,y2:100.6,stroke:GREEN,strokeWidth:1.5}),
  Plot.ruleX(fRows,{x:"i",y1:"m",y2:"e",stroke:RED,strokeWidth:1.8}),
  Plot.ruleY(fRows,{y:"e",x1:d=>d.i-.166,x2:d=>d.i+.166,stroke:RED,strokeWidth:1.8}),
  Plot.ruleX([-.493],{strokeWidth:5.4,stroke:"#000"}),
  Plot.ruleY([0],{x1:-.6,x2:5.52,strokeWidth:4.5,stroke:"#000"}),
  Plot.axisX({ticks:fractionPos,tickFormat:()=>"",tickSize:9,strokeWidth:4.5,...axisOpts}),
  Plot.axisY({ticks:[0,20,40,60,80,100],tickFormat:fmt,tickSize:9,tickPadding:5,strokeWidth:4.5,fontSize:27.5,...axisOpts}),
  Plot.text(fRows,{x:"i",y:0,text:"c",dx:5,dy:30,rotate:-45,textAnchor:"end",lineAnchor:"middle",fontWeight:"bold",fontSize:28,fill:"#000"}),
  Plot.ruleY([-43.5],{x1:-.87,x2:1.015,stroke:"#000",strokeWidth:2.5}),
  Plot.ruleY([-43.2],{x1:2,x2:3.9,stroke:"#000",strokeWidth:2.5}),
  note("PC-9",1464.4,1355,{textAnchor:"middle"}),
  note("A549",1698,1355,{textAnchor:"middle"}),
  note("%(Total)",1348,982.8,{textAnchor:"middle",rotate:-90})
]);

// panel letters and the F legend
const letters=[["A",0,3],["B",723,3],["C",1385,3],["D",10,720],["E",647,717],["F",1351.5,719]];
for(const [s,x,t] of letters){const d=document.createElement("div");d.className="t";d.textContent=s;d.style.cssText=`left:${x}px;top:${t}px;font-size:38.5px`;page.appendChild(d);}
for(const [s,x,b] of [["Cytoplasmic",1531.3,766.7],["Nuclear",1777,765.4]]){const d=document.createElement("div");d.className="t";d.textContent=s;d.style.cssText=`left:${x}px;top:${b-25.6}px;font-size:28.8px`;page.appendChild(d);}
for(const [c,x,y] of [[RED,1469.4,749.8],[GREEN,1714.7,746.4]]){const d=document.createElement("div");d.className="s";d.style.cssText=`left:${x}px;top:${y}px;width:40.6px;height:18.6px;background:${c}`;page.appendChild(d);}
</script></body></html>
